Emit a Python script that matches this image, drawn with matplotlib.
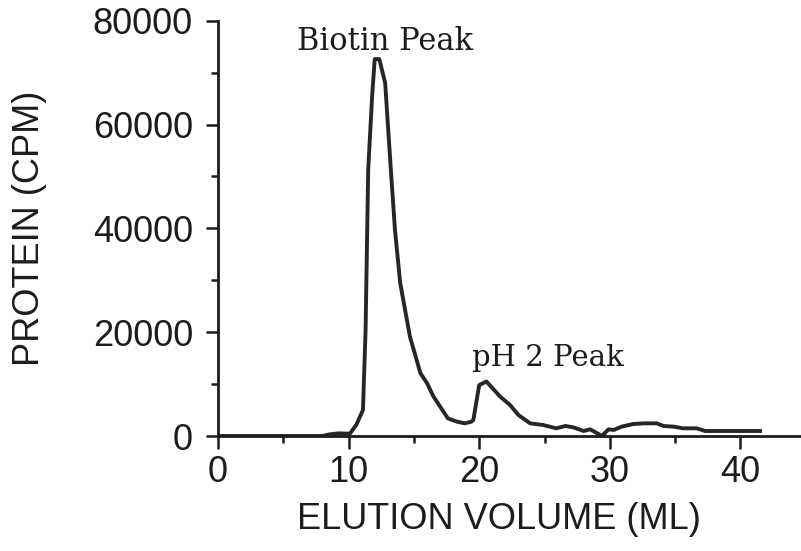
#!/usr/bin/env python3
"""Elution profile: protein counts vs elution volume."""

import matplotlib
matplotlib.use("Agg")
import matplotlib.pyplot as plt
from matplotlib.ticker import MultipleLocator

# Elution volume (ml) and protein counts (CPM)
volume = [0, 8.0, 8.5, 9.2, 10.1, 10.6, 11.1, 11.3, 11.5, 11.8, 12.0, 12.35,
          12.8, 13.2, 13.55, 13.95, 14.7, 15.5, 16.0, 16.5, 17.6, 18.3, 18.9,
          19.4, 19.55, 20.0, 20.55, 21.6, 22.35, 23.0, 23.9, 24.9, 25.9, 26.6,
          27.2, 28.0, 28.5, 29.4, 29.9, 30.3, 30.9, 31.8, 32.6, 33.6, 34.1,
          34.9, 35.6, 36.65, 37.3, 38.4, 41.5]
cpm = [0, 0, 300, 500, 450, 2200, 5000, 20400, 51300, 65400, 72600, 72600,
       68000, 52600, 39700, 29500, 19100, 12100, 10200, 7600, 3400, 2760, 2440,
       2760, 3080, 9800, 10500, 7600, 6000, 4050, 2440, 2120, 1480, 1930,
       1670, 960, 1290, 0, 1290, 1160, 1800, 2310, 2440, 2440, 1930,
       1800, 1480, 1480, 960, 960, 960]

ink = "#1c1c1c"

fig = plt.figure(figsize=(8.01, 5.51), dpi=100)
ax = fig.add_axes([218 / 801, 115 / 551, 583 / 801, 415.3 / 551])

ax.plot(volume, cpm, color="#262626", lw=2.8, solid_joinstyle="round")

ax.set_xlim(0, 44.64)
ax.set_ylim(0, 80000)

ax.xaxis.set_major_locator(MultipleLocator(10))
ax.xaxis.set_minor_locator(MultipleLocator(5))
ax.yaxis.set_major_locator(MultipleLocator(20000))
ax.yaxis.set_minor_locator(MultipleLocator(10000))

for side in ("top", "right"):
    ax.spines[side].set_visible(False)
for side in ("left", "bottom"):
    ax.spines[side].set_linewidth(2)
    ax.spines[side].set_color(ink)

ax.tick_params(which="major", length=9, width=1.8, color=ink)
ax.tick_params(which="minor", length=5, width=1.8, color=ink)
ax.tick_params(axis="y", which="major", pad=9)
ax.tick_params(axis="x", which="major", pad=5)
ax.tick_params(labelsize=26, labelcolor=ink)
for lab in ax.get_xticklabels() + ax.get_yticklabels():
    lab.set_family("Liberation Sans")

ax.set_xlabel("ELUTION VOLUME (ML)", fontsize=26, family="Liberation Sans",
              color=ink)
ax.set_ylabel("PROTEIN (CPM)", fontsize=26, family="Liberation Sans",
              color=ink)
ax.xaxis.set_label_coords(0.482, -0.202)
ax.xaxis.label.set_va("center")
ax.yaxis.set_label_coords(-0.3225, 0.5)
ax.yaxis.label.set_va("center")

ax.text(12.8, 76000, "Biotin Peak", family="DejaVu Serif", fontsize=22,
        ha="center", va="center", color=ink)
ax.text(25.3, 15000, "pH 2 Peak", family="DejaVu Serif", fontsize=21,
        ha="center", va="center", color=ink)

fig.savefig("out.png", dpi=100)
